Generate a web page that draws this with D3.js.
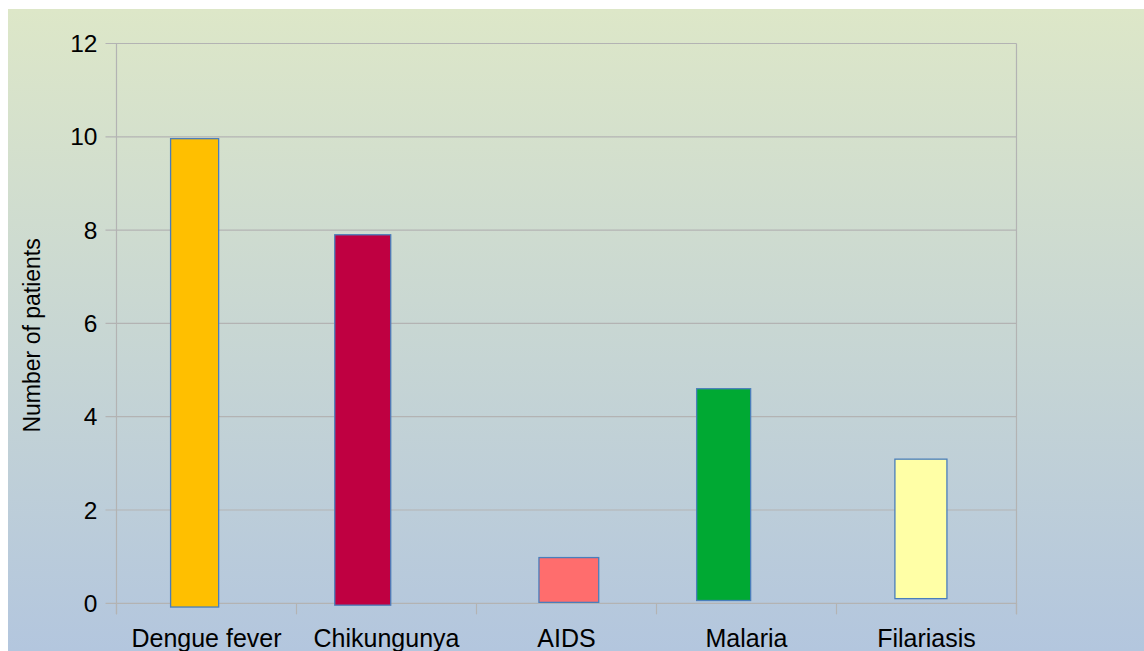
<!DOCTYPE html>
<html>
<head>
<meta charset="utf-8">
<script src="https://cdn.jsdelivr.net/npm/d3@7"></script>
<style>
  body { margin: 0; background: #fff; }
  text { font-family: "Liberation Sans", Arial, sans-serif; fill: #000; }
</style>
</head>
<body>
<div id="chart"></div>
<script>
// data
const categories = ['Dengue fever', 'Chikungunya', 'AIDS', 'Malaria', 'Filariasis'];
const barTops = [9.96, 7.9, 0.98, 4.6, 3.09];
const barBases = [-0.08, -0.04, 0.02, 0.06, 0.10];
const barColors = ['#ffbf00', '#bf0041', '#ff6d6d', '#00a933', '#ffffa6'];
const yTicks = [0, 2, 4, 6, 8, 10, 12];

// bars in the source are not evenly placed: shift / width as a share of the band
const barShift = [-0.066, -0.132, 0.013, -0.127, -0.031];
const barWidth = [0.267, 0.311, 0.332, 0.3, 0.289];

const width = 1144;
const height = 651;
const margin = { top: 43.5, left: 116.5, right: 127.5, bottom: 47.7 };

const svg = d3.select('#chart').append('svg')
  .attr('width', width)
  .attr('height', height);

// background gradient
const grad = svg.append('defs').append('linearGradient')
  .attr('id', 'bg')
  .attr('x1', 0).attr('y1', 0).attr('x2', 0).attr('y2', 1);
grad.append('stop').attr('offset', '0%').attr('stop-color', '#dde7c8');
grad.append('stop').attr('offset', '100%').attr('stop-color', '#b3c6de');

svg.append('rect')
  .attr('x', 8).attr('y', 9)
  .attr('width', width - 8).attr('height', height - 9)
  .attr('fill', 'url(#bg)');

const x = d3.scaleBand()
  .domain(categories)
  .range([margin.left, width - margin.right]);

const y = d3.scaleLinear()
  .domain([0, 12])
  .range([height - margin.bottom, margin.top]);

// gridlines
svg.append('g')
  .selectAll('line')
  .data(yTicks)
  .enter()
  .append('line')
  .attr('x1', margin.left - 11)
  .attr('x2', width - margin.right)
  .attr('y1', d => y(d))
  .attr('y2', d => y(d))
  .attr('stroke', '#b3b3b3')
  .attr('stroke-width', 1.2);

// y axis line + right border
[margin.left, width - margin.right].forEach(xx => {
  svg.append('line')
    .attr('x1', xx).attr('x2', xx)
    .attr('y1', margin.top).attr('y2', y(0) + 11)
    .attr('stroke', '#b3b3b3')
    .attr('stroke-width', 1.2);
});

// x ticks at band edges
const edges = categories.map(c => x(c)).concat([x.range()[1]]);
svg.append('g')
  .selectAll('line')
  .data(edges)
  .enter()
  .append('line')
  .attr('x1', d => d).attr('x2', d => d)
  .attr('y1', y(0)).attr('y2', y(0) + 11)
  .attr('stroke', '#b3b3b3')
  .attr('stroke-width', 1.2);

// y tick labels
svg.append('g')
  .selectAll('text')
  .data(yTicks)
  .enter()
  .append('text')
  .attr('x', margin.left - 19)
  .attr('y', d => y(d))
  .attr('dy', '0.35em')
  .attr('text-anchor', 'end')
  .style('font-size', '24.5px')
  .text(d => d);

// x labels
svg.append('g')
  .selectAll('text')
  .data(categories)
  .enter()
  .append('text')
  .attr('x', d => x(d) + x.bandwidth() / 2)
  .attr('y', y(0) + 43.5)
  .attr('text-anchor', 'middle')
  .style('font-size', '25px')
  .text(d => d);

// axis title
svg.append('text')
  .attr('transform', `translate(40, ${(margin.top + y(0)) / 2 + 12}) rotate(-90)`)
  .attr('text-anchor', 'middle')
  .style('font-size', '23px')
  .text('Number of patients');

// bars
svg.append('g')
  .selectAll('rect')
  .data(categories)
  .enter()
  .append('rect')
  .attr('x', (d, i) => x(d) + x.bandwidth() * (0.5 + barShift[i] - barWidth[i] / 2))
  .attr('width', (d, i) => x.bandwidth() * barWidth[i])
  .attr('y', (d, i) => y(barTops[i]))
  .attr('height', (d, i) => y(barBases[i]) - y(barTops[i]))
  .attr('fill', (d, i) => barColors[i])
  .attr('stroke', '#4a7ebb')
  .attr('stroke-width', 1.3);
</script>
</body>
</html>
